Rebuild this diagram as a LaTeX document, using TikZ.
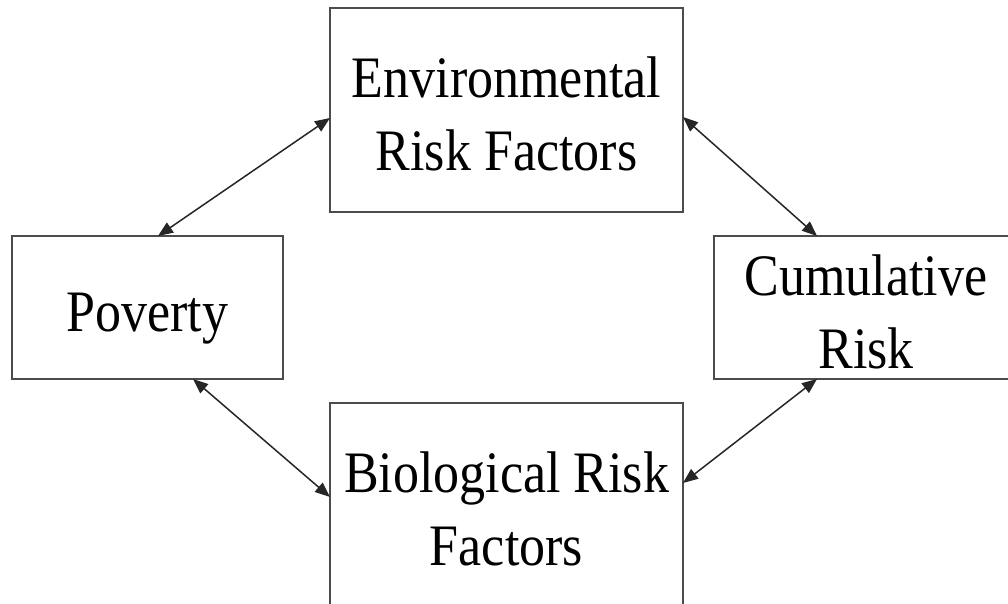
\documentclass[tikz,border=0pt]{standalone}
\usepackage{fontspec}
\setmainfont{Liberation Serif}
\usetikzlibrary{arrows.meta, positioning, calc}
\newcommand{\risktext}[1]{\raisebox{-11.8pt}[0pt][0pt]{\scalebox{1}[1.13]{\begin{tabular}{@{}c@{}}#1\end{tabular}}}}

\begin{document}
\begin{tikzpicture}[x=0.5pt, y=-0.5pt,
  riskbox/.style={draw=black!70, line width=0.75pt, outer sep=0pt, inner sep=0pt,
    align=center, font=\fontsize{26}{32.5}\selectfont},
  link/.style={{Triangle[length=7.5pt,width=6pt]}-{Triangle[length=7.5pt,width=6pt]},
    line width=0.75pt, black!85}]
  \useasboundingbox (0,0) rectangle (1008,604);
  \clip (0,0) rectangle (1008,604);

  % the four boxes
  \node[riskbox, minimum width=176.5pt, minimum height=102pt] (env) at (506.5,110) {\risktext{Environmental\\Risk Factors}};
  \node[riskbox, minimum width=135.5pt, minimum height=71.5pt] (pov) at (147.5,307.5) {\risktext{Poverty}};
  \node[riskbox, minimum width=152pt, minimum height=71.5pt] (cum) at (866,307.5) {\risktext{Cumulative\\Risk}};
  \node[riskbox, minimum width=176.5pt, minimum height=102pt] (bio) at (506.5,505) {\risktext{Biological Risk\\Factors}};

  % two-way links
  \draw[link] ($(pov.north)+(10.5,0)$) -- ($(env.west)+(0,8)$);
  \draw[link] ($(env.east)+(0,7)$) -- ($(cum.north)+(-49,0)$);
  \draw[link] ($(pov.south)+(45.5,0)$) -- ($(bio.west)+(0,-8)$);
  \draw[link] ($(cum.south)+(-49,0)$) -- ($(bio.east)+(0,-22)$);
\end{tikzpicture}
\end{document}
